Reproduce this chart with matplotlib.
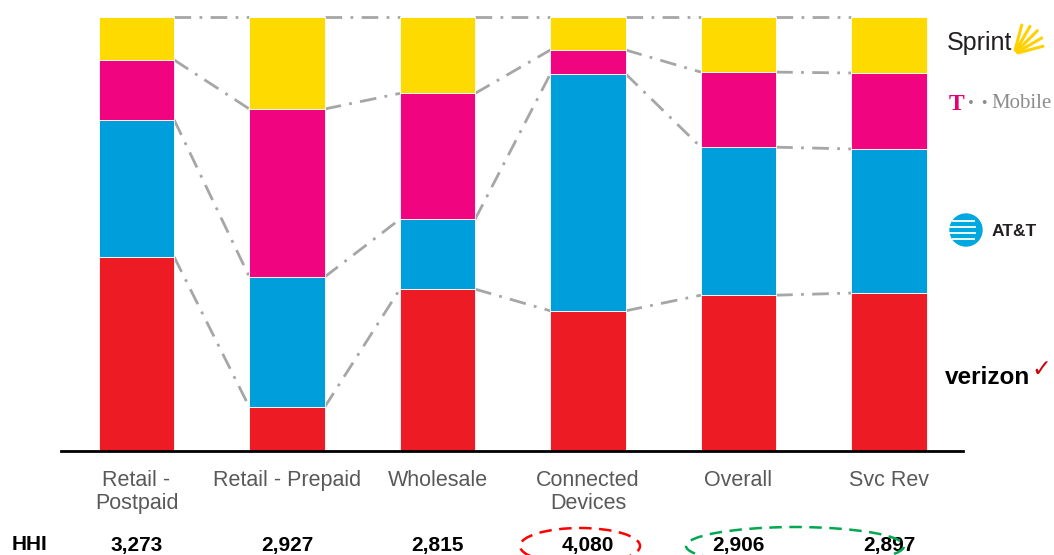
import matplotlib
matplotlib.use("Agg")
import matplotlib.pyplot as plt
import matplotlib.transforms as mtransforms
from matplotlib.patches import Ellipse
import numpy as np

plt.rcParams['font.family'] = ['Liberation Sans', 'DejaVu Sans']

# market share (%) by segment, bottom to top
categories = ["Retail -\nPostpaid", "Retail - Prepaid", "Wholesale",
              "Connected\nDevices", "Overall", "Svc Rev"]
verizon = [44.7, 10.1, 37.3, 32.3, 35.9, 36.4]
att = [31.6, 30.0, 16.1, 54.6, 34.1, 33.2]
tmobile = [13.8, 38.7, 29.0, 5.5, 17.3, 17.5]
sprint = [9.9, 21.2, 17.6, 7.6, 12.7, 12.9]
hhi = ["3,273", "2,927", "2,815", "4,080", "2,906", "2,897"]

colors = {"verizon": "#ED1C24", "att": "#009FDB",
          "tmobile": "#F0047F", "sprint": "#FFDA00"}

W, H = 1054, 555


def fx(px):
    return px / W


def fy(py):
    return 1 - py / H


fig = plt.figure(figsize=(10.54, 5.55), dpi=100)
ax = fig.add_axes([fx(61), fy(451), 902 / W, 434 / H])

x = np.arange(len(categories))
w = 0.5
series = [(verizon, colors["verizon"]), (att, colors["att"]),
          (tmobile, colors["tmobile"]), (sprint, colors["sprint"])]
bottom = np.zeros(len(categories))
levels = []
for vals, c in series:
    vals = np.array(vals)
    ax.bar(x, vals, w, bottom=bottom, color=c, edgecolor="white", linewidth=0.6, zorder=2)
    bottom = bottom + vals
    levels.append(bottom.copy())

# connector lines between neighbouring bars
for lev in levels:
    for i in range(len(categories) - 1):
        ax.plot([x[i] + w / 2, x[i + 1] - w / 2], [lev[i], lev[i + 1]],
                color="#A6A6A6", lw=2, ls=(0, (6, 3, 1, 3)), zorder=1, clip_on=False)

ax.set_xlim(-0.502, 5.492)
ax.set_ylim(0, 100)
for s in ["top", "right", "left"]:
    ax.spines[s].set_visible(False)
ax.spines["bottom"].set_linewidth(2)
ax.set_yticks([])
ax.set_xticks(x)
ax.set_xticklabels(categories, fontsize=15.5, color="#595959", linespacing=1.15)
ax.tick_params(axis="x", length=0, pad=13.5)

# HHI row
tr = mtransforms.blended_transform_factory(ax.transData, fig.transFigure)
fig.text(fx(12), fy(545), "HHI", fontsize=15, fontweight="bold", va="center")
for i, h in enumerate(hhi):
    ax.text(x[i], fy(545), h, transform=tr, fontsize=15, fontweight="bold",
            ha="center", va="center")

fig.add_artist(Ellipse((fx(580), fy(546)), 120 / W, 36 / H,
                       transform=fig.transFigure, fill=False, ec="#FF0000",
                       lw=1.8, ls=(0, (5, 3))))
fig.add_artist(Ellipse((fx(795), fy(546)), 218 / W, 38 / H,
                       transform=fig.transFigure, fill=False, ec="#00A94F",
                       lw=1.8, ls=(0, (5, 3))))

# carrier "logos" on the right
fig.text(fx(947), fy(43), "Sprint", fontsize=18, color="#231F20", va="center")
for ang, ln in [(15, 30), (30, 32), (45, 33), (60, 32), (75, 30)]:
    a = np.deg2rad(ang)
    x0, y0 = 1014, 54
    fig.add_artist(plt.Line2D([fx(x0 + 4 * np.cos(a)), fx(x0 + ln * np.cos(a))],
                              [fy(y0 - 4 * np.sin(a)), fy(y0 - ln * np.sin(a))],
                              transform=fig.transFigure, color="#FFD100", lw=2.2,
                              solid_capstyle="round"))

fig.text(fx(949), fy(104), "T", fontsize=17, color="#E20074",
         family="Liberation Serif", fontweight="bold", va="center")
fig.text(fx(967), fy(104), "\u00b7 \u00b7", fontsize=17, color="#8C8C8C",
         family="Liberation Serif", fontweight="bold", va="center")
fig.text(fx(991), fy(104), "Mobile", fontsize=15, color="#8C8C8C",
         family="Liberation Serif", va="center")

# AT&T globe
gx, gy, r = 966, 230, 16
fig.add_artist(Ellipse((fx(gx), fy(gy)), 2 * r / W, 2 * r / H,
                       transform=fig.transFigure, color="#00A8E0"))
for dy in [-9, -3, 3, 9]:
    half = np.sqrt(max(r ** 2 - dy ** 2, 0))
    fig.add_artist(plt.Line2D([fx(gx - half), fx(gx + half * 0.6)],
                              [fy(gy + dy), fy(gy + dy)],
                              transform=fig.transFigure, color="white", lw=1.3))
fig.text(fx(992), fy(231), "AT&T", fontsize=12.5, fontweight="bold",
         color="#231F20", va="center")

fig.text(fx(945), fy(377), "verizon", fontsize=17.5, fontweight="bold",
         color="#000000", va="center")
fig.text(fx(1031), fy(369), "\u2713", fontsize=17, color="#CD040B",
         family="DejaVu Sans", va="center")

fig.savefig("out.png", dpi=100)
